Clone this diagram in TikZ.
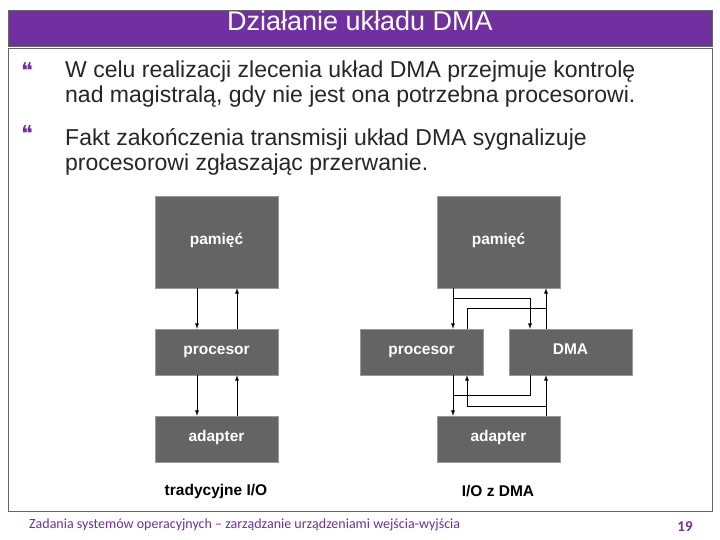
\documentclass[tikz,border=0pt]{standalone}
\usepackage{fontspec}
\setmainfont{Liberation Sans}
\newfontfamily\symfont{DejaVu Sans}
\newfontfamily\footfont{Carlito}
\usetikzlibrary{arrows}
\definecolor{slidepurple}{RGB}{112,48,160}
\definecolor{boxgray}{RGB}{100,100,100}
\begin{document}
\begin{tikzpicture}[x=1pt,y=-1pt]
        \tikzset{block/.style = {fill=boxgray,draw=black!40,inner sep=0pt,text=white,text height=0.75em,text depth=0.2em,font=\fontsize{15.5}{17}\selectfont\bfseries}}
        \tikzset{edge/.style = {-,line width=0.9pt,> = latex}}
        \useasboundingbox (0,0) rectangle (720,540);
        \fill[white] (0,0) rectangle (720,540);
        % title and frame
        \node[fill=slidepurple,draw=black!60,minimum width=704pt,minimum height=36pt,inner sep=0pt,text=white,text height=0.75em,text depth=0.2em,font=\fontsize{27}{30}\selectfont] (title) at (360,28) {Działanie układu DMA};
        \draw[black!60] (8,48) rectangle (712,511);
        \node[text=slidepurple,font=\symfont\fontsize{22}{22}\selectfont] (b1) at (27,70) {❝};
        \node[text=slidepurple,font=\symfont\fontsize{22}{22}\selectfont] (b2) at (27,133) {❝};
        \node[anchor=north west,align=left,inner sep=0pt,font=\fontsize{23}{25}\selectfont,text=black!85] (t1) at (65,61) {W celu realizacji zlecenia układ DMA przejmuje kontrolę\\nad magistralą, gdy nie jest ona potrzebna procesorowi.};
        \node[anchor=north west,align=left,inner sep=0pt,font=\fontsize{23}{25}\selectfont,text=black!85] (t2) at (65,128) {Fakt zakończenia transmisji układ DMA sygnalizuje\\procesorowi zgłaszając przerwanie.};
        % traditional I/O
        \node[block,minimum width=123pt,minimum height=92pt] (mem1) at (216.5,242) {pamięć};
        \node[block,minimum width=123pt,minimum height=46pt] (cpu1) at (216.5,352) {procesor};
        \node[block,minimum width=123pt,minimum height=46pt] (dev1) at (216.5,439) {adapter};
        \draw[edge,->] (mem1.south -| 197,0) -- (cpu1.north -| 197,0);
        \draw[edge,->] (cpu1.north -| 237,0) -- (mem1.south -| 237,0);
        \draw[edge,->] (cpu1.south -| 197,0) -- (dev1.north -| 197,0);
        \draw[edge,->] (dev1.north -| 237,0) -- (cpu1.south -| 237,0);
        % I/O with DMA
        \node[block,minimum width=123pt,minimum height=92pt] (mem2) at (498.5,242) {pamięć};
        \node[block,minimum width=123pt,minimum height=46pt] (cpu2) at (421.5,352) {procesor};
        \node[block,minimum width=123pt,minimum height=46pt] (dma) at (570.5,352) {DMA};
        \node[block,minimum width=123pt,minimum height=46pt] (dev2) at (498.5,439) {adapter};
        \draw[edge,->] (mem2.south -| 453,0) -- (cpu2.north -| 453,0);
        \draw[edge,->] (453,298) -- (530,298) -- (dma.north -| 530,0);
        \draw[edge,->] (dma.north -| 546,0) -- (mem2.south -| 546,0);
        \draw[edge] (546,308) -- (467,308) -- (cpu2.north -| 467,0);
        \draw[edge,->] (cpu2.south -| 453,0) -- (dev2.north -| 453,0);
        \draw[edge] (453,395) -- (530,395) -- (dma.south -| 530,0);
        \draw[edge,->] (dev2.north -| 546,0) -- (dma.south -| 546,0);
        \draw[edge,->] (546,406) -- (467,406) -- (cpu2.south -| 467,0);
        % captions and footer
        \node[font=\fontsize{15.5}{17}\selectfont\bfseries] (cap1) at (216,491) {tradycyjne I/O};
        \node[font=\fontsize{15.5}{17}\selectfont\bfseries] (cap2) at (498,491) {I/O z DMA};
        \node[anchor=west,inner sep=0pt,text=slidepurple,font=\footfont\fontsize{14}{16}\selectfont] (foot) at (29,525) {Zadania systemów operacyjnych – zarządzanie urządzeniami wejścia-wyjścia};
        \node[text=slidepurple,font=\footfont\fontsize{15}{16}\selectfont\bfseries] (page) at (685,527) {19};
\end{tikzpicture}
\end{document}
